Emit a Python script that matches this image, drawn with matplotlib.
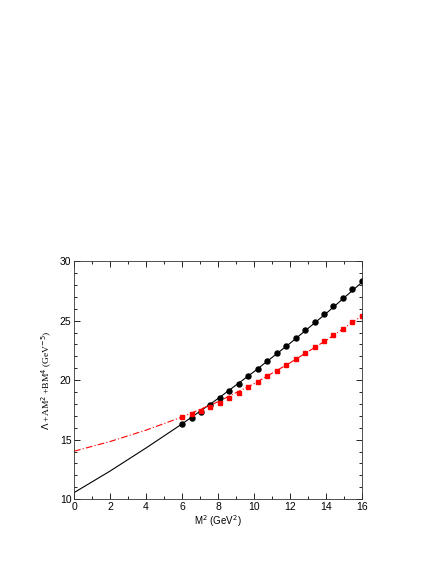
import numpy as np
import matplotlib
matplotlib.use("Agg")
from matplotlib import pyplot as plt
from matplotlib.ticker import MultipleLocator

# fitted curves at even M^2
curve_x = [0, 2, 4, 6, 8, 10, 12, 14, 16]
black_curve = [10.55, 12.36, 14.30, 16.32, 18.45, 20.71, 23.09, 25.59, 28.22]
red_curve = [14.03, 14.84, 15.80, 16.90, 18.18, 19.70, 21.45, 23.33, 25.40]

# sum-rule points
pts_x = [6.00, 6.53, 7.05, 7.58, 8.11, 8.63, 9.16, 9.68, 10.21, 10.74,
         11.26, 11.79, 12.32, 12.84, 13.37, 13.89, 14.42, 14.95, 15.47, 16.00]
black_pts = [16.35, 16.83, 17.33, 17.95, 18.50, 19.09, 19.70, 20.34, 20.96, 21.63,
             22.27, 22.91, 23.58, 24.25, 24.92, 25.59, 26.26, 26.93, 27.62, 28.29]
red_pts = [16.91, 17.19, 17.41, 17.75, 18.11, 18.53, 18.95, 19.40, 19.84, 20.32,
           20.79, 21.26, 21.74, 22.24, 22.77, 23.33, 23.80, 24.33, 24.86, 25.40]

plt.rcParams["font.family"] = ["Liberation Sans", "DejaVu Sans"]

fig = plt.figure(figsize=(4.36, 5.64), dpi=100)
ax = fig.add_axes([0.170, 0.115, 0.660, 0.422])

ax.plot(curve_x, black_curve, color="black", lw=0.8)
ax.plot(curve_x, red_curve, color="red", lw=0.8, ls=(0, (6, 2, 1, 2)))
ax.plot(pts_x, black_pts, "o", color="black", ms=3.6, mec="black")
ax.plot(pts_x, red_pts, "s", color="red", ms=3.0, mec="red")

ax.set_xlim(0, 16)
ax.set_ylim(10, 30)
ax.xaxis.set_major_locator(MultipleLocator(2))
ax.xaxis.set_minor_locator(MultipleLocator(1))
ax.yaxis.set_major_locator(MultipleLocator(5))
ax.yaxis.set_minor_locator(MultipleLocator(1))
ax.tick_params(which="both", direction="in", top=True, right=True,
               labelsize=7.5, width=0.6, pad=2)
ax.tick_params(which="major", length=4)
ax.tick_params(which="minor", length=2)
for s in ax.spines.values():
    s.set_linewidth(0.6)
    s.set_color("#333333")

ax.set_xlabel("M$^2$ (GeV$^2$)", fontsize=7, labelpad=1)
ax.set_ylabel(r"$\Lambda$ +AM$^2$ +BM$^4$ (GeV$^{-5}$)", fontsize=6.8,
              family=["Liberation Serif", "DejaVu Serif"], labelpad=4)

plt.savefig("out.png", dpi=100)
plt.close()
